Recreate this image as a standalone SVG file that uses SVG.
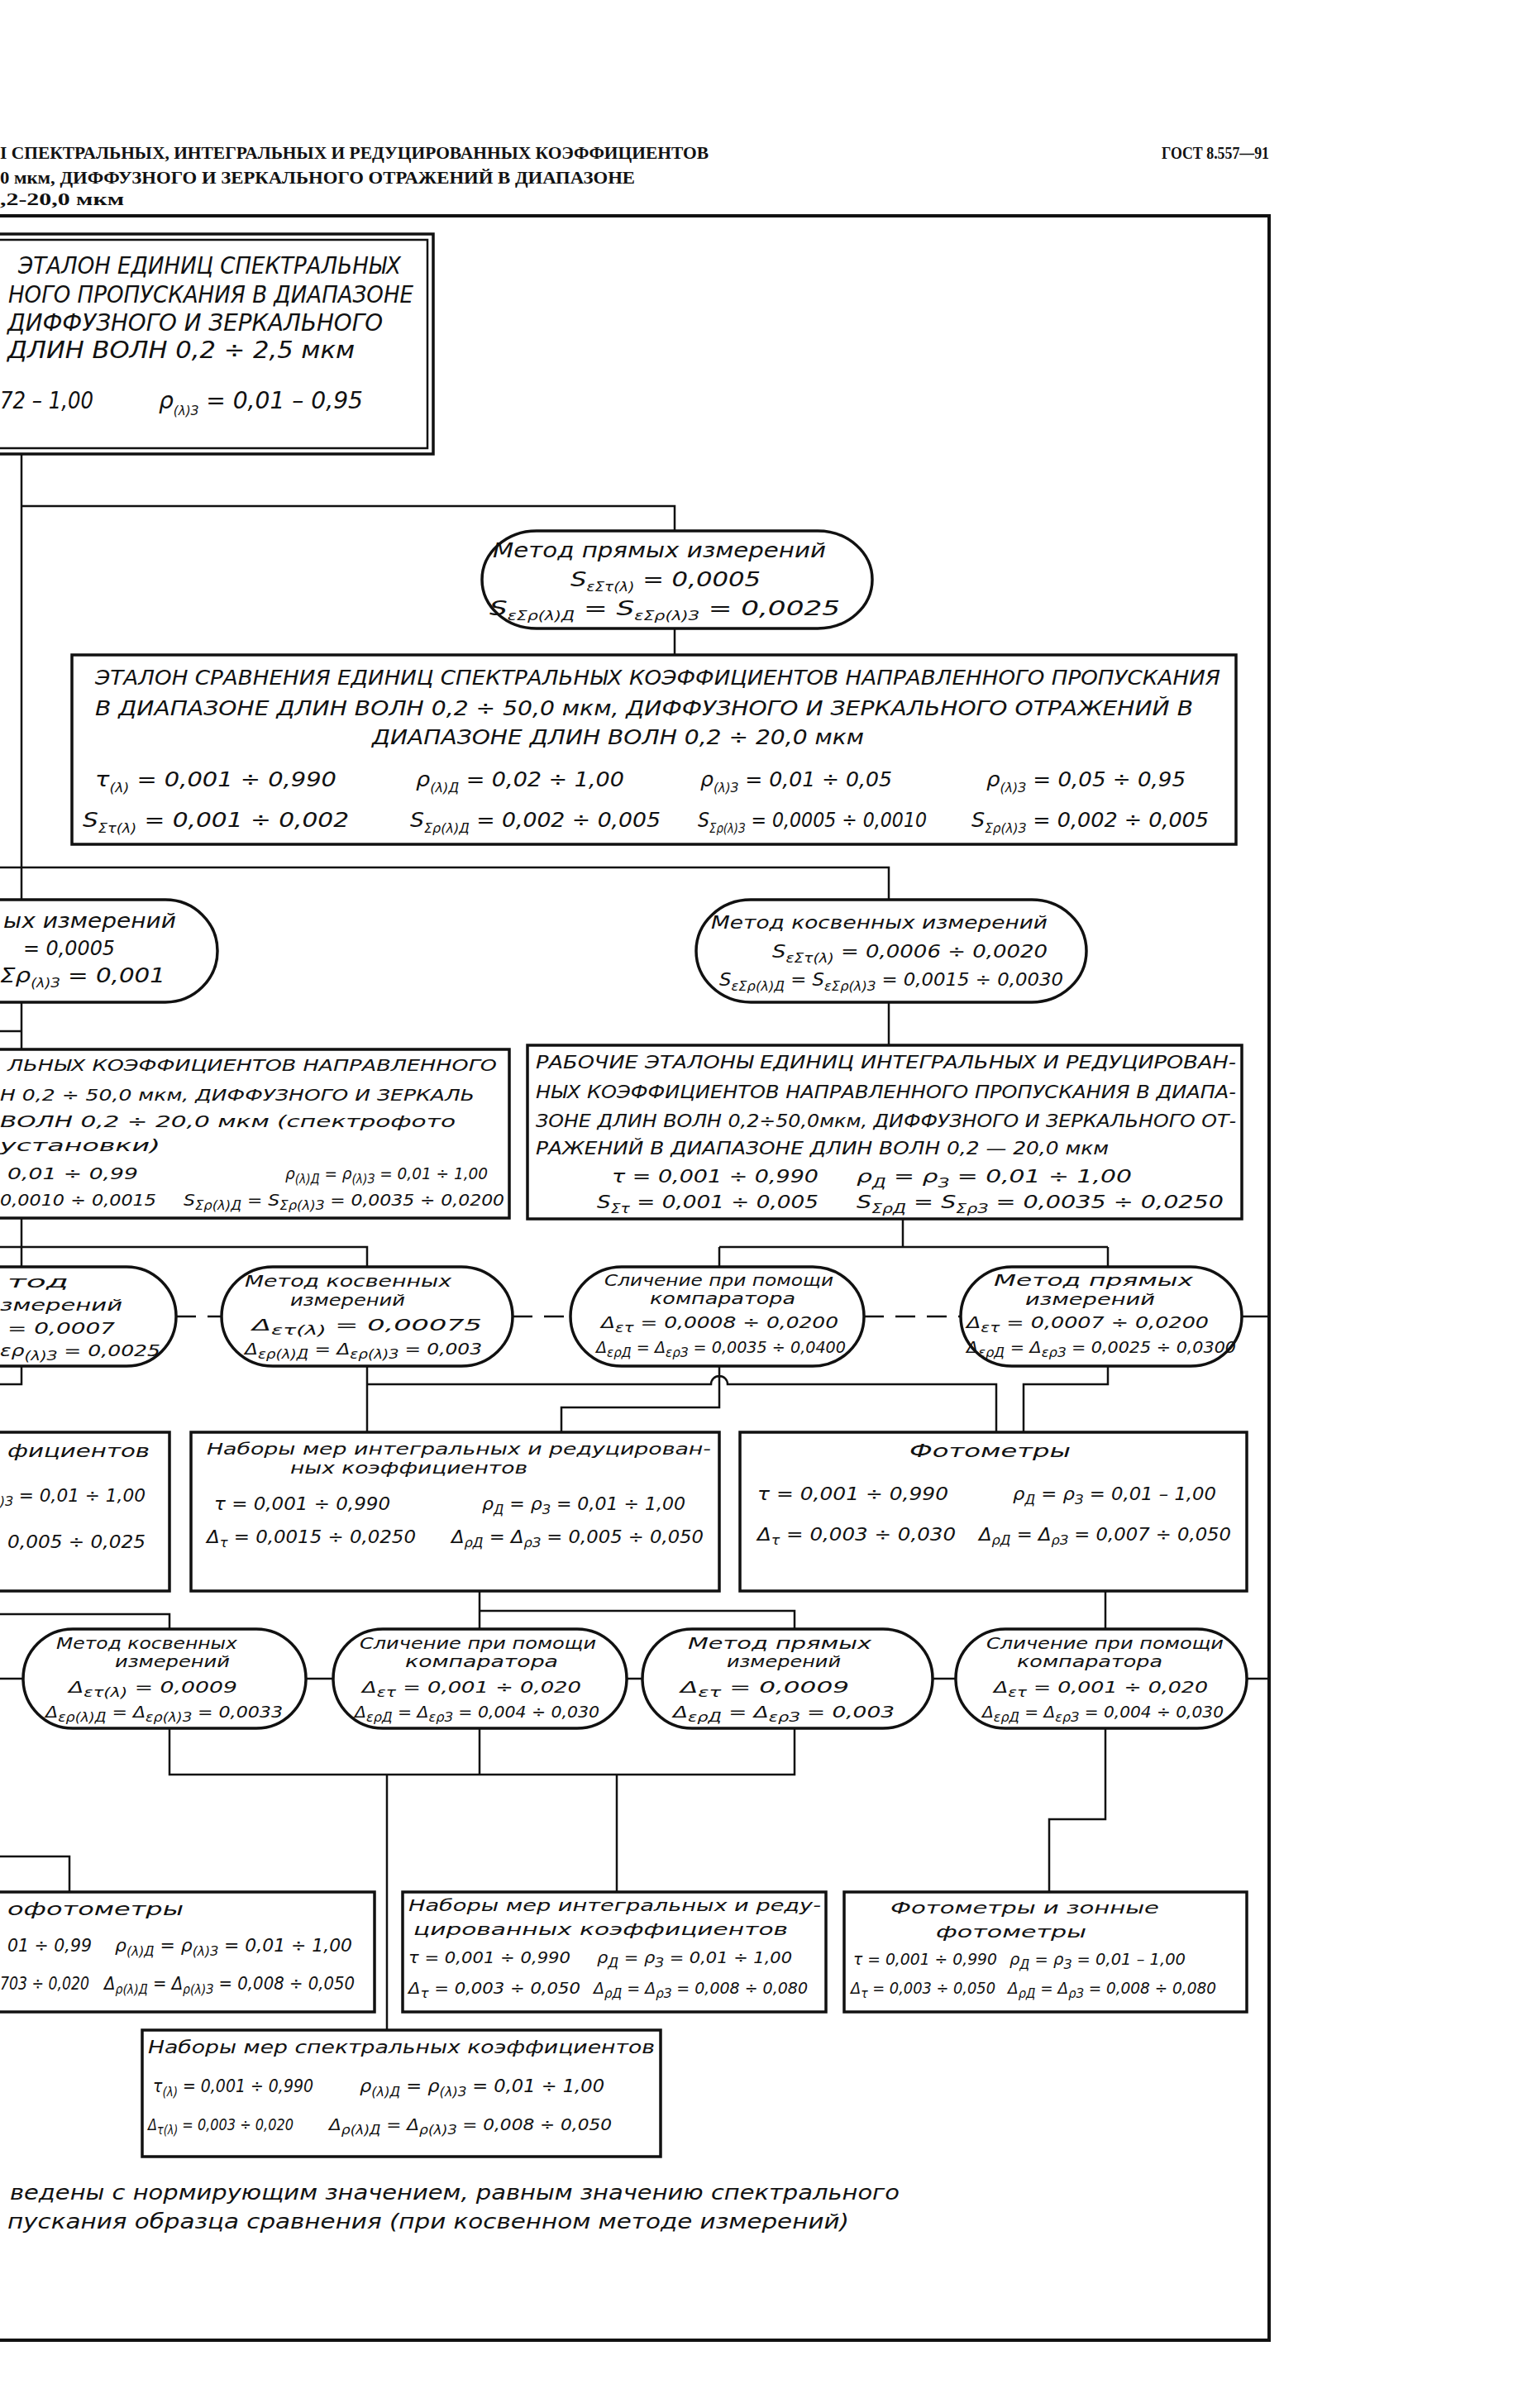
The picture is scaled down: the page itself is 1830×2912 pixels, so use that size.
<svg xmlns="http://www.w3.org/2000/svg" width="1830" height="2912" viewBox="0 0 1830 2912">
<style>
.f{font-family:"DejaVu Sans","Liberation Sans",sans-serif;font-style:italic;fill:#111}
.h{font-family:"Liberation Serif",serif;font-weight:bold;fill:#111;font-size:22px}
.b{fill:none;stroke:#111;stroke-width:3.5}
.c{fill:none;stroke:#111;stroke-width:2.5}
.d{stroke-dasharray:24 14}
.L{font-size:28px}
.M{font-size:25px}
.S{font-size:21px}
.E{font-size:20px}
.T{font-size:19px}
.u{font-size:15px}
</style>
<rect width="1830" height="2912" fill="#fff"/>
<g id="header">
<text class="h" x="0" y="192" textLength="857" lengthAdjust="spacingAndGlyphs">I СПЕКТРАЛЬНЫХ, ИНТЕГРАЛЬНЫХ И РЕДУЦИРОВАННЫХ КОЭФФИЦИЕНТОВ</text>
<text class="h" x="0" y="222" textLength="768" lengthAdjust="spacingAndGlyphs">0 мкм, ДИФФУЗНОГО И ЗЕРКАЛЬНОГО ОТРАЖЕНИЙ В ДИАПАЗОНЕ</text>
<text class="h" x="0" y="248" textLength="150" lengthAdjust="spacingAndGlyphs">,2-20,0 мкм</text>
<text class="h" x="1405" y="192" textLength="130" lengthAdjust="spacingAndGlyphs">ГОСТ 8.557—91</text>
</g>
<g id="frame">
<path d="M0,261 H1535 V2830 H0" fill="none" stroke="#111" stroke-width="4"/>
</g>
<g id="connectors" fill="none" stroke="#111" stroke-width="2.5">
<path d="M26,549 V1088 M26,1212 V1269 M26,1473 V1532 M26,1652 V1674 H0"/>
<path d="M26,612 H816 V642 M816,760 V792"/>
<path d="M0,1049 H1075 V1088 M1075,1212 V1264"/>
<path d="M0,1247 H26"/>
<path d="M0,1508 H444 V1532 M1092,1474 V1508 M870,1508 H1340 M870,1508 V1532 M1340,1508 V1532"/>
<path class="d" d="M213,1592 H268 M620,1592 H690 M1045,1592 H1162"/>
<path d="M1502,1592 H1535"/>
<path d="M444,1652 V1732 M444,1674 H860 A10,10 0 0 1 880,1674 H1205 V1732 M870,1652 V1702 H679 V1732 M1340,1652 V1674 H1238 V1732"/>
<path d="M0,1952 H205 V1970 M580,1924 V1970 M580,1948 H961 V1970 M1337,1924 V1970"/>
<path d="M0,2030 H28 M370,2030 H403 M758,2030 H777 M1128,2030 H1156 M1508,2030 H1535"/>
<path d="M205,2090 V2146 H961 V2090 M580,2090 V2146 M468,2146 V2455 M746,2146 V2288 M1337,2090 V2200 H1269 V2288 M0,2245 H84 V2288"/>
</g>
<g id="n-gos">
<rect x="-10" y="283" width="534" height="266" class="b"/>
<path d="M-10,290 H517 V542 H-10" class="c" stroke-width="1.5"/>
<text class="f L" x="22" y="331" textLength="463" lengthAdjust="spacingAndGlyphs">ЭТАЛОН ЕДИНИЦ СПЕКТРАЛЬНЫХ</text>
<text class="f L" x="10" y="366" textLength="490" lengthAdjust="spacingAndGlyphs">НОГО ПРОПУСКАНИЯ В ДИАПАЗОНЕ</text>
<text class="f L" x="9" y="400" textLength="454" lengthAdjust="spacingAndGlyphs">ДИФФУЗНОГО И ЗЕРКАЛЬНОГО</text>
<text class="f L" x="9" y="433" textLength="420" lengthAdjust="spacingAndGlyphs">ДЛИН ВОЛН 0,2 ÷ 2,5 мкм</text>
<text class="f L" x="0" y="494" textLength="113" lengthAdjust="spacingAndGlyphs">72 – 1,00</text>
<text class="f L" x="192" y="494" textLength="247" lengthAdjust="spacingAndGlyphs">ρ<tspan class="u" dy="8">(λ)З</tspan><tspan dy="-8"> = 0,01 – 0,95</tspan></text>
</g>
<g id="n-a">
<rect x="583" y="642" width="472" height="118" rx="66" ry="59" class="b"/>
<text class="f M" x="596" y="674" textLength="403" lengthAdjust="spacingAndGlyphs">Метод прямых измерений</text>
<text class="f M" x="690" y="709" textLength="230" lengthAdjust="spacingAndGlyphs">S<tspan class="u" dy="6">εΣτ(λ)</tspan><tspan dy="-6"> = 0,0005</tspan></text>
<text class="f M" x="592" y="744" textLength="424" lengthAdjust="spacingAndGlyphs">S<tspan class="u" dy="6">εΣρ(λ)Д</tspan><tspan dy="-6"> = S</tspan><tspan class="u" dy="6">εΣρ(λ)З</tspan><tspan dy="-6"> = 0,0025</tspan></text>
</g>
<g id="n-b">
<rect x="87" y="792" width="1408" height="229" class="b"/>
<text class="f M" x="115" y="828" textLength="1361" lengthAdjust="spacingAndGlyphs">ЭТАЛОН СРАВНЕНИЯ ЕДИНИЦ СПЕКТРАЛЬНЫХ КОЭФФИЦИЕНТОВ НАПРАВЛЕННОГО ПРОПУСКАНИЯ</text>
<text class="f M" x="115" y="865" textLength="1328" lengthAdjust="spacingAndGlyphs">В ДИАПАЗОНЕ ДЛИН ВОЛН 0,2 ÷ 50,0 мкм, ДИФФУЗНОГО И ЗЕРКАЛЬНОГО ОТРАЖЕНИЙ В</text>
<text class="f M" x="450" y="900" textLength="595" lengthAdjust="spacingAndGlyphs">ДИАПАЗОНЕ ДЛИН ВОЛН 0,2 ÷ 20,0 мкм</text>
<text class="f M" x="115" y="951" textLength="292" lengthAdjust="spacingAndGlyphs">τ<tspan class="u" dy="7">(λ)</tspan><tspan dy="-7"> = 0,001 ÷ 0,990</tspan></text>
<text class="f M" x="503" y="951" textLength="252" lengthAdjust="spacingAndGlyphs">ρ<tspan class="u" dy="7">(λ)Д</tspan><tspan dy="-7"> = 0,02 ÷ 1,00</tspan></text>
<text class="f M" x="847" y="951" textLength="232" lengthAdjust="spacingAndGlyphs">ρ<tspan class="u" dy="7">(λ)З</tspan><tspan dy="-7"> = 0,01 ÷ 0,05</tspan></text>
<text class="f M" x="1193" y="951" textLength="241" lengthAdjust="spacingAndGlyphs">ρ<tspan class="u" dy="7">(λ)З</tspan><tspan dy="-7"> = 0,05 ÷ 0,95</tspan></text>
<text class="f M" x="100" y="1000" textLength="322" lengthAdjust="spacingAndGlyphs">S<tspan class="u" dy="7">Στ(λ)</tspan><tspan dy="-7"> = 0,001 ÷ 0,002</tspan></text>
<text class="f M" x="496" y="1000" textLength="303" lengthAdjust="spacingAndGlyphs">S<tspan class="u" dy="7">Σρ(λ)Д</tspan><tspan dy="-7"> = 0,002 ÷ 0,005</tspan></text>
<text class="f M" x="844" y="1000" textLength="277" lengthAdjust="spacingAndGlyphs">S<tspan class="u" dy="7">Σρ(λ)З</tspan><tspan dy="-7"> = 0,0005 ÷ 0,0010</tspan></text>
<text class="f M" x="1175" y="1000" textLength="287" lengthAdjust="spacingAndGlyphs">S<tspan class="u" dy="7">Σρ(λ)З</tspan><tspan dy="-7"> = 0,002 ÷ 0,005</tspan></text>
</g>
<g id="n-d">
<path d="M-10,1088 H200 A63,62 0 0 1 200,1212 H-10" class="b"/>
<text class="f M" x="4" y="1122" textLength="209" lengthAdjust="spacingAndGlyphs">ых измерений</text>
<text class="f M" x="28" y="1155" textLength="111" lengthAdjust="spacingAndGlyphs">= 0,0005</text>
<text class="f M" x="0" y="1188" textLength="200" lengthAdjust="spacingAndGlyphs">Σρ<tspan class="u" dy="6">(λ)З</tspan><tspan dy="-6"> = 0,001</tspan></text>
</g>
<g id="n-c">
<rect x="842" y="1088" width="472" height="124" rx="66" ry="62" class="b"/>
<text class="f S" x="860" y="1123" textLength="407" lengthAdjust="spacingAndGlyphs">Метод косвенных измерений</text>
<text class="f S" x="934" y="1158" textLength="333" lengthAdjust="spacingAndGlyphs">S<tspan class="u" dy="6">εΣτ(λ)</tspan><tspan dy="-6"> = 0,0006 ÷ 0,0020</tspan></text>
<text class="f S" x="870" y="1192" textLength="416" lengthAdjust="spacingAndGlyphs">S<tspan class="u" dy="6">εΣρ(λ)Д</tspan><tspan dy="-6"> = S</tspan><tspan class="u" dy="6">εΣρ(λ)З</tspan><tspan dy="-6"> = 0,0015 ÷ 0,0030</tspan></text>
</g>
<g id="n-e">
<path d="M-10,1269 H616 V1473 H-10" class="b"/>
<text class="f E" x="9" y="1295" textLength="592" lengthAdjust="spacingAndGlyphs">ЛЬНЫХ КОЭФФИЦИЕНТОВ НАПРАВЛЕННОГО</text>
<text class="f E" x="0" y="1331" textLength="574" lengthAdjust="spacingAndGlyphs">Н 0,2 ÷ 50,0 мкм, ДИФФУЗНОГО И ЗЕРКАЛЬ</text>
<text class="f E" x="0" y="1363" textLength="551" lengthAdjust="spacingAndGlyphs">ВОЛН 0,2 ÷ 20,0 мкм (спектрофото</text>
<text class="f E" x="0" y="1392" textLength="194" lengthAdjust="spacingAndGlyphs">установки)</text>
<text class="f E" x="9" y="1426" textLength="158" lengthAdjust="spacingAndGlyphs">0,01 ÷ 0,99</text>
<text class="f E" x="345" y="1426" textLength="245" lengthAdjust="spacingAndGlyphs">ρ<tspan class="u" dy="5">(λ)Д</tspan><tspan dy="-5"> = ρ</tspan><tspan class="u" dy="5">(λ)З</tspan><tspan dy="-5"> = 0,01 ÷ 1,00</tspan></text>
<text class="f E" x="0" y="1458" textLength="189" lengthAdjust="spacingAndGlyphs">0,0010 ÷ 0,0015</text>
<text class="f E" x="222" y="1458" textLength="388" lengthAdjust="spacingAndGlyphs">S<tspan class="u" dy="5">Σρ(λ)Д</tspan><tspan dy="-5"> = S</tspan><tspan class="u" dy="5">Σρ(λ)З</tspan><tspan dy="-5"> = 0,0035 ÷ 0,0200</tspan></text>
</g>
<g id="n-f">
<rect x="638" y="1264" width="864" height="210" class="b"/>
<text class="f S" x="648" y="1292" textLength="847" lengthAdjust="spacingAndGlyphs">РАБОЧИЕ ЭТАЛОНЫ ЕДИНИЦ ИНТЕГРАЛЬНЫХ И РЕДУЦИРОВАН-</text>
<text class="f S" x="648" y="1328" textLength="847" lengthAdjust="spacingAndGlyphs">НЫХ КОЭФФИЦИЕНТОВ НАПРАВЛЕННОГО ПРОПУСКАНИЯ В ДИАПА-</text>
<text class="f S" x="648" y="1363" textLength="847" lengthAdjust="spacingAndGlyphs">ЗОНЕ ДЛИН ВОЛН 0,2÷50,0мкм, ДИФФУЗНОГО И ЗЕРКАЛЬНОГО ОТ-</text>
<text class="f S" x="648" y="1396" textLength="693" lengthAdjust="spacingAndGlyphs">РАЖЕНИЙ В ДИАПАЗОНЕ ДЛИН ВОЛН 0,2 — 20,0 мкм</text>
<text class="f S" x="740" y="1430" textLength="250" lengthAdjust="spacingAndGlyphs">τ = 0,001 ÷ 0,990</text>
<text class="f S" x="1036" y="1430" textLength="333" lengthAdjust="spacingAndGlyphs">ρ<tspan class="u" dy="6">Д</tspan><tspan dy="-6"> = ρ</tspan><tspan class="u" dy="6">З</tspan><tspan dy="-6"> = 0,01 ÷ 1,00</tspan></text>
<text class="f S" x="722" y="1461" textLength="268" lengthAdjust="spacingAndGlyphs">S<tspan class="u" dy="6">Στ</tspan><tspan dy="-6"> = 0,001 ÷ 0,005</tspan></text>
<text class="f S" x="1036" y="1461" textLength="444" lengthAdjust="spacingAndGlyphs">S<tspan class="u" dy="6">ΣρД</tspan><tspan dy="-6"> = S</tspan><tspan class="u" dy="6">ΣρЗ</tspan><tspan dy="-6"> = 0,0035 ÷ 0,0250</tspan></text>
</g>
<g id="n-g">
<path d="M-10,1532 H153 A60,60 0 0 1 153,1652 H-10" class="b"/>
<text class="f T" x="9" y="1557" textLength="74" lengthAdjust="spacingAndGlyphs">тод</text>
<text class="f T" x="0" y="1585" textLength="148" lengthAdjust="spacingAndGlyphs">змерений</text>
<text class="f T" x="9" y="1613" textLength="130" lengthAdjust="spacingAndGlyphs">= 0,0007</text>
<text class="f T" x="0" y="1640" textLength="194" lengthAdjust="spacingAndGlyphs">ερ<tspan class="u" dy="5">(λ)З</tspan><tspan dy="-5"> = 0,0025</tspan></text>
</g>
<g id="n-h">
<rect x="268" y="1532" width="352" height="120" rx="62" ry="60" class="b"/>
<text class="f T" x="296" y="1556" textLength="250" lengthAdjust="spacingAndGlyphs">Метод косвенных</text>
<text class="f T" x="351" y="1579" textLength="139" lengthAdjust="spacingAndGlyphs">измерений</text>
<text class="f T" x="305" y="1609" textLength="278" lengthAdjust="spacingAndGlyphs">Δ<tspan class="u" dy="5">ετ(λ)</tspan><tspan dy="-5"> = 0,00075</tspan></text>
<text class="f T" x="296" y="1638" textLength="287" lengthAdjust="spacingAndGlyphs">Δ<tspan class="u" dy="5">ερ(λ)Д</tspan><tspan dy="-5"> = Δ</tspan><tspan class="u" dy="5">ερ(λ)З</tspan><tspan dy="-5"> = 0,003</tspan></text>
</g>
<g id="n-i">
<rect x="690" y="1532" width="355" height="120" rx="62" ry="60" class="b"/>
<text class="f T" x="731" y="1555" textLength="277" lengthAdjust="spacingAndGlyphs">Сличение при помощи</text>
<text class="f T" x="786" y="1577" textLength="176" lengthAdjust="spacingAndGlyphs">компаратора</text>
<text class="f T" x="727" y="1606" textLength="287" lengthAdjust="spacingAndGlyphs">Δ<tspan class="u" dy="5">ετ</tspan><tspan dy="-5"> = 0,0008 ÷ 0,0200</tspan></text>
<text class="f T" x="721" y="1636" textLength="302" lengthAdjust="spacingAndGlyphs">Δ<tspan class="u" dy="5">ερД</tspan><tspan dy="-5"> = Δ</tspan><tspan class="u" dy="5">ερЗ</tspan><tspan dy="-5"> = 0,0035 ÷ 0,0400</tspan></text>
</g>
<g id="n-j">
<rect x="1162" y="1532" width="340" height="120" rx="62" ry="60" class="b"/>
<text class="f T" x="1202" y="1555" textLength="241" lengthAdjust="spacingAndGlyphs">Метод прямых</text>
<text class="f T" x="1240" y="1578" textLength="157" lengthAdjust="spacingAndGlyphs">измерений</text>
<text class="f T" x="1169" y="1606" textLength="293" lengthAdjust="spacingAndGlyphs">Δ<tspan class="u" dy="5">ετ</tspan><tspan dy="-5"> = 0,0007 ÷ 0,0200</tspan></text>
<text class="f T" x="1169" y="1636" textLength="326" lengthAdjust="spacingAndGlyphs">Δ<tspan class="u" dy="5">ερД</tspan><tspan dy="-5"> = Δ</tspan><tspan class="u" dy="5">ερЗ</tspan><tspan dy="-5"> = 0,0025 ÷ 0,0300</tspan></text>
</g>
<g id="n-l">
<path d="M-10,1732 H205 V1924 H-10" class="b"/>
<text class="f S" x="9" y="1762" textLength="172" lengthAdjust="spacingAndGlyphs">фициентов</text>
<text class="f S" x="0" y="1816" textLength="176" lengthAdjust="spacingAndGlyphs"><tspan class="u" dy="5">)З</tspan><tspan dy="-5"> = 0,01 ÷ 1,00</tspan></text>
<text class="f S" x="9" y="1872" textLength="167" lengthAdjust="spacingAndGlyphs">0,005 ÷ 0,025</text>
</g>
<g id="n-k">
<rect x="231" y="1732" width="639" height="192" class="b"/>
<text class="f T" x="250" y="1759" textLength="610" lengthAdjust="spacingAndGlyphs">Наборы мер интегральных и редуцирован-</text>
<text class="f T" x="351" y="1782" textLength="287" lengthAdjust="spacingAndGlyphs">ных коэффициентов</text>
<text class="f S" x="259" y="1826" textLength="213" lengthAdjust="spacingAndGlyphs">τ = 0,001 ÷ 0,990</text>
<text class="f S" x="583" y="1826" textLength="246" lengthAdjust="spacingAndGlyphs">ρ<tspan class="u" dy="5">Д</tspan><tspan dy="-5"> = ρ</tspan><tspan class="u" dy="5">З</tspan><tspan dy="-5"> = 0,01 ÷ 1,00</tspan></text>
<text class="f S" x="250" y="1866" textLength="253" lengthAdjust="spacingAndGlyphs">Δ<tspan class="u" dy="5">τ</tspan><tspan dy="-5"> = 0,0015 ÷ 0,0250</tspan></text>
<text class="f S" x="546" y="1866" textLength="305" lengthAdjust="spacingAndGlyphs">Δ<tspan class="u" dy="5">ρД</tspan><tspan dy="-5"> = Δ</tspan><tspan class="u" dy="5">ρЗ</tspan><tspan dy="-5"> = 0,005 ÷ 0,050</tspan></text>
</g>
<g id="n-m">
<rect x="895" y="1732" width="613" height="192" class="b"/>
<text class="f S" x="1100" y="1762" textLength="195" lengthAdjust="spacingAndGlyphs">Фотометры</text>
<text class="f S" x="916" y="1814" textLength="231" lengthAdjust="spacingAndGlyphs">τ = 0,001 ÷ 0,990</text>
<text class="f S" x="1225" y="1814" textLength="246" lengthAdjust="spacingAndGlyphs">ρ<tspan class="u" dy="5">Д</tspan><tspan dy="-5"> = ρ</tspan><tspan class="u" dy="5">З</tspan><tspan dy="-5"> = 0,01 – 1,00</tspan></text>
<text class="f S" x="916" y="1863" textLength="240" lengthAdjust="spacingAndGlyphs">Δ<tspan class="u" dy="5">τ</tspan><tspan dy="-5"> = 0,003 ÷ 0,030</tspan></text>
<text class="f S" x="1184" y="1863" textLength="305" lengthAdjust="spacingAndGlyphs">Δ<tspan class="u" dy="5">ρД</tspan><tspan dy="-5"> = Δ</tspan><tspan class="u" dy="5">ρЗ</tspan><tspan dy="-5"> = 0,007 ÷ 0,050</tspan></text>
</g>
<g id="n-n">
<rect x="28" y="1970" width="342" height="120" rx="60" ry="60" class="b"/>
<text class="f T" x="68" y="1994" textLength="219" lengthAdjust="spacingAndGlyphs">Метод косвенных</text>
<text class="f T" x="139" y="2016" textLength="139" lengthAdjust="spacingAndGlyphs">измерений</text>
<text class="f T" x="83" y="2047" textLength="204" lengthAdjust="spacingAndGlyphs">Δ<tspan class="u" dy="5">ετ(λ)</tspan><tspan dy="-5"> = 0,0009</tspan></text>
<text class="f T" x="55" y="2077" textLength="287" lengthAdjust="spacingAndGlyphs">Δ<tspan class="u" dy="5">ερ(λ)Д</tspan><tspan dy="-5"> = Δ</tspan><tspan class="u" dy="5">ερ(λ)З</tspan><tspan dy="-5"> = 0,0033</tspan></text>
</g>
<g id="n-o">
<rect x="403" y="1970" width="355" height="120" rx="60" ry="60" class="b"/>
<text class="f T" x="435" y="1994" textLength="286" lengthAdjust="spacingAndGlyphs">Сличение при помощи</text>
<text class="f T" x="490" y="2016" textLength="185" lengthAdjust="spacingAndGlyphs">компаратора</text>
<text class="f T" x="438" y="2047" textLength="265" lengthAdjust="spacingAndGlyphs">Δ<tspan class="u" dy="5">ετ</tspan><tspan dy="-5"> = 0,001 ÷ 0,020</tspan></text>
<text class="f T" x="429" y="2077" textLength="296" lengthAdjust="spacingAndGlyphs">Δ<tspan class="u" dy="5">ερД</tspan><tspan dy="-5"> = Δ</tspan><tspan class="u" dy="5">ερЗ</tspan><tspan dy="-5"> = 0,004 ÷ 0,030</tspan></text>
</g>
<g id="n-p">
<rect x="777" y="1970" width="351" height="120" rx="60" ry="60" class="b"/>
<text class="f T" x="832" y="1994" textLength="222" lengthAdjust="spacingAndGlyphs">Метод прямых</text>
<text class="f T" x="879" y="2016" textLength="138" lengthAdjust="spacingAndGlyphs">измерений</text>
<text class="f T" x="823" y="2047" textLength="204" lengthAdjust="spacingAndGlyphs">Δ<tspan class="u" dy="5">ετ</tspan><tspan dy="-5"> = 0,0009</tspan></text>
<text class="f T" x="814" y="2077" textLength="268" lengthAdjust="spacingAndGlyphs">Δ<tspan class="u" dy="5">ερД</tspan><tspan dy="-5"> = Δ</tspan><tspan class="u" dy="5">ερЗ</tspan><tspan dy="-5"> = 0,003</tspan></text>
</g>
<g id="n-q">
<rect x="1156" y="1970" width="352" height="120" rx="60" ry="60" class="b"/>
<text class="f T" x="1193" y="1994" textLength="287" lengthAdjust="spacingAndGlyphs">Сличение при помощи</text>
<text class="f T" x="1230" y="2016" textLength="176" lengthAdjust="spacingAndGlyphs">компаратора</text>
<text class="f T" x="1202" y="2047" textLength="259" lengthAdjust="spacingAndGlyphs">Δ<tspan class="u" dy="5">ετ</tspan><tspan dy="-5"> = 0,001 ÷ 0,020</tspan></text>
<text class="f T" x="1188" y="2077" textLength="292" lengthAdjust="spacingAndGlyphs">Δ<tspan class="u" dy="5">ερД</tspan><tspan dy="-5"> = Δ</tspan><tspan class="u" dy="5">ερЗ</tspan><tspan dy="-5"> = 0,004 ÷ 0,030</tspan></text>
</g>
<g id="n-r">
<path d="M-10,2288 H453 V2433 H-10" class="b"/>
<text class="f S" x="9" y="2316" textLength="213" lengthAdjust="spacingAndGlyphs">офотометры</text>
<text class="f S" x="9" y="2360" textLength="102" lengthAdjust="spacingAndGlyphs">01 ÷ 0,99</text>
<text class="f S" x="139" y="2360" textLength="287" lengthAdjust="spacingAndGlyphs">ρ<tspan class="u" dy="5">(λ)Д</tspan><tspan dy="-5"> = ρ</tspan><tspan class="u" dy="5">(λ)З</tspan><tspan dy="-5"> = 0,01 ÷ 1,00</tspan></text>
<text class="f S" x="0" y="2406" textLength="108" lengthAdjust="spacingAndGlyphs">703 ÷ 0,020</text>
<text class="f S" x="126" y="2406" textLength="303" lengthAdjust="spacingAndGlyphs">Δ<tspan class="u" dy="5">ρ(λ)Д</tspan><tspan dy="-5"> = Δ</tspan><tspan class="u" dy="5">ρ(λ)З</tspan><tspan dy="-5"> = 0,008 ÷ 0,050</tspan></text>
</g>
<g id="n-s">
<rect x="487" y="2288" width="512" height="145" class="b"/>
<text class="f T" x="494" y="2311" textLength="499" lengthAdjust="spacingAndGlyphs">Наборы мер интегральных и реду-</text>
<text class="f T" x="500" y="2340" textLength="453" lengthAdjust="spacingAndGlyphs">цированных коэффициентов</text>
<text class="f T" x="494" y="2374" textLength="196" lengthAdjust="spacingAndGlyphs">τ = 0,001 ÷ 0,990</text>
<text class="f T" x="722" y="2374" textLength="236" lengthAdjust="spacingAndGlyphs">ρ<tspan class="u" dy="5">Д</tspan><tspan dy="-5"> = ρ</tspan><tspan class="u" dy="5">З</tspan><tspan dy="-5"> = 0,01 ÷ 1,00</tspan></text>
<text class="f T" x="494" y="2411" textLength="208" lengthAdjust="spacingAndGlyphs">Δ<tspan class="u" dy="5">τ</tspan><tspan dy="-5"> = 0,003 ÷ 0,050</tspan></text>
<text class="f T" x="718" y="2411" textLength="259" lengthAdjust="spacingAndGlyphs">Δ<tspan class="u" dy="5">ρД</tspan><tspan dy="-5"> = Δ</tspan><tspan class="u" dy="5">ρЗ</tspan><tspan dy="-5"> = 0,008 ÷ 0,080</tspan></text>
</g>
<g id="n-u">
<rect x="1021" y="2288" width="487" height="145" class="b"/>
<text class="f T" x="1077" y="2314" textLength="325" lengthAdjust="spacingAndGlyphs">Фотометры и зонные</text>
<text class="f T" x="1132" y="2343" textLength="182" lengthAdjust="spacingAndGlyphs">фотометры</text>
<text class="f T" x="1032" y="2376" textLength="174" lengthAdjust="spacingAndGlyphs">τ = 0,001 ÷ 0,990</text>
<text class="f T" x="1221" y="2376" textLength="213" lengthAdjust="spacingAndGlyphs">ρ<tspan class="u" dy="5">Д</tspan><tspan dy="-5"> = ρ</tspan><tspan class="u" dy="5">З</tspan><tspan dy="-5"> = 0,01 – 1,00</tspan></text>
<text class="f T" x="1029" y="2411" textLength="175" lengthAdjust="spacingAndGlyphs">Δ<tspan class="u" dy="5">τ</tspan><tspan dy="-5"> = 0,003 ÷ 0,050</tspan></text>
<text class="f T" x="1219" y="2411" textLength="252" lengthAdjust="spacingAndGlyphs">Δ<tspan class="u" dy="5">ρД</tspan><tspan dy="-5"> = Δ</tspan><tspan class="u" dy="5">ρЗ</tspan><tspan dy="-5"> = 0,008 ÷ 0,080</tspan></text>
</g>
<g id="n-t">
<rect x="172" y="2455" width="627" height="153" class="b"/>
<text class="f S" x="179" y="2483" textLength="613" lengthAdjust="spacingAndGlyphs">Наборы мер спектральных коэффициентов</text>
<text class="f S" x="185" y="2530" textLength="194" lengthAdjust="spacingAndGlyphs">τ<tspan class="u" dy="5">(λ)</tspan><tspan dy="-5"> = 0,001 ÷ 0,990</tspan></text>
<text class="f S" x="435" y="2530" textLength="296" lengthAdjust="spacingAndGlyphs">ρ<tspan class="u" dy="5">(λ)Д</tspan><tspan dy="-5"> = ρ</tspan><tspan class="u" dy="5">(λ)З</tspan><tspan dy="-5"> = 0,01 ÷ 1,00</tspan></text>
<text class="f T" x="179" y="2576" textLength="176" lengthAdjust="spacingAndGlyphs">Δ<tspan class="u" dy="5">τ(λ)</tspan><tspan dy="-5"> = 0,003 ÷ 0,020</tspan></text>
<text class="f T" x="398" y="2576" textLength="342" lengthAdjust="spacingAndGlyphs">Δ<tspan class="u" dy="5">ρ(λ)Д</tspan><tspan dy="-5"> = Δ</tspan><tspan class="u" dy="5">ρ(λ)З</tspan><tspan dy="-5"> = 0,008 ÷ 0,050</tspan></text>
</g>
<g id="footnote">
<text class="f M" x="12" y="2660" textLength="1076" lengthAdjust="spacingAndGlyphs">ведены с нормирующим значением, равным значению спектрального</text>
<text class="f M" x="9" y="2695" textLength="1018" lengthAdjust="spacingAndGlyphs">пускания образца сравнения (при косвенном методе измерений)</text>
</g>
</svg>
